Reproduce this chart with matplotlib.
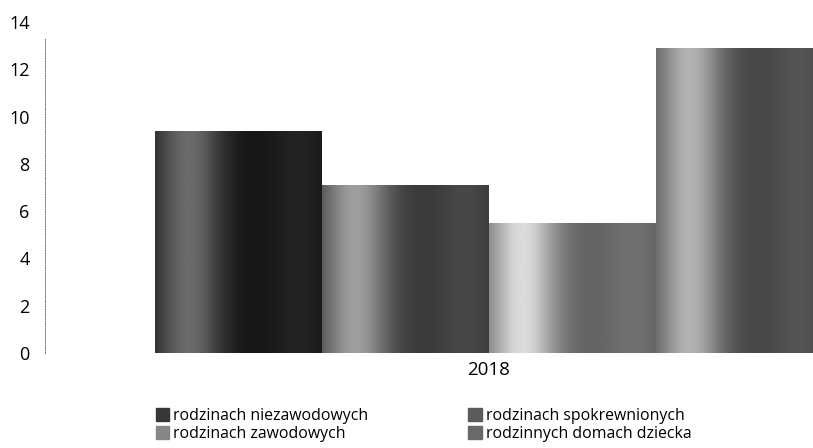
import numpy as np
import matplotlib.pyplot as plt
import matplotlib.patches as mpatches

plt.rcParams['font.family'] = ['Open Sans', 'DejaVu Sans']

categories = ['2018']
series = ['rodzinach niezawodowych', 'rodzinach spokrewnionych',
          'rodzinach zawodowych', 'rodzinnych domach dziecka']
values = [9.4, 7.1, 5.5, 12.9]

# (base tone, highlight tone) for the cylinder-like shading
shades = [(0.08, 0.42), (0.22, 0.62), (0.38, 0.86), (0.27, 0.70)]

fig = plt.figure(figsize=(8.13, 4.48), dpi=100)
ax = fig.add_axes([45 / 813, 1 - 353 / 448, 1 - 45 / 813, (353 - 22) / 448])

w = 0.2
x = np.arange(len(categories))
offsets = (np.arange(len(series)) - 1.5) * w

prof_x = np.linspace(0, 1, 200)
for i, (name, v) in enumerate(zip(series, values)):
    bars = ax.bar(x + offsets[i], [v], width=w, color='0.3', linewidth=0)
    base, hi = shades[i]
    for b in bars:
        x0, y0 = b.get_x(), b.get_y()
        x1, y1 = x0 + b.get_width(), y0 + b.get_height()
        prof = base + (hi - base) * np.exp(-((prof_x - 0.2) / 0.2) ** 2)
        prof = prof + 0.06 * np.exp(-((prof_x - 0.85) / 0.15) ** 2)
        img = np.clip(np.tile(prof, (2, 1)), 0, 1)
        im = ax.imshow(img, cmap='gray', vmin=0, vmax=1, aspect='auto',
                       extent=(x0, x1, y0, y1), interpolation='bilinear',
                       zorder=2)
        im.set_clip_path(b)

ax.set_xlim(-0.4 - 110 / 835, -0.4 - 110 / 835 + 768 / 835)
ax.set_ylim(0, 14)
ax.set_yticks(range(0, 15, 2))
ax.set_xticks(x)
ax.set_xticklabels(categories)
ax.tick_params(axis='y', length=0, pad=11, labelsize=13)
ax.tick_params(axis='x', length=0, pad=6, labelsize=13.5)
for s in ['top', 'right', 'bottom']:
    ax.spines[s].set_visible(False)
ax.spines['left'].set_linestyle((0, (1, 1.5)))
ax.spines['left'].set_color('0.45')
ax.spines['left'].set_linewidth(0.7)
ax.spines['left'].set_bounds(0, 13.3)

handles = [mpatches.Patch(color=str(np.mean(shades[i]) * 0.85), label=series[i])
           for i in [0, 2, 1, 3]]
fig.legend(handles=handles, ncol=2, frameon=False, fontsize=11.4,
           loc='upper left', bbox_to_anchor=(148 / 813, 1 - 400 / 448),
           handlelength=0.85, handleheight=0.85, handletextpad=0.25,
           labelspacing=0.15, columnspacing=6.3, borderpad=0)

fig.savefig('out.png', dpi=100)
